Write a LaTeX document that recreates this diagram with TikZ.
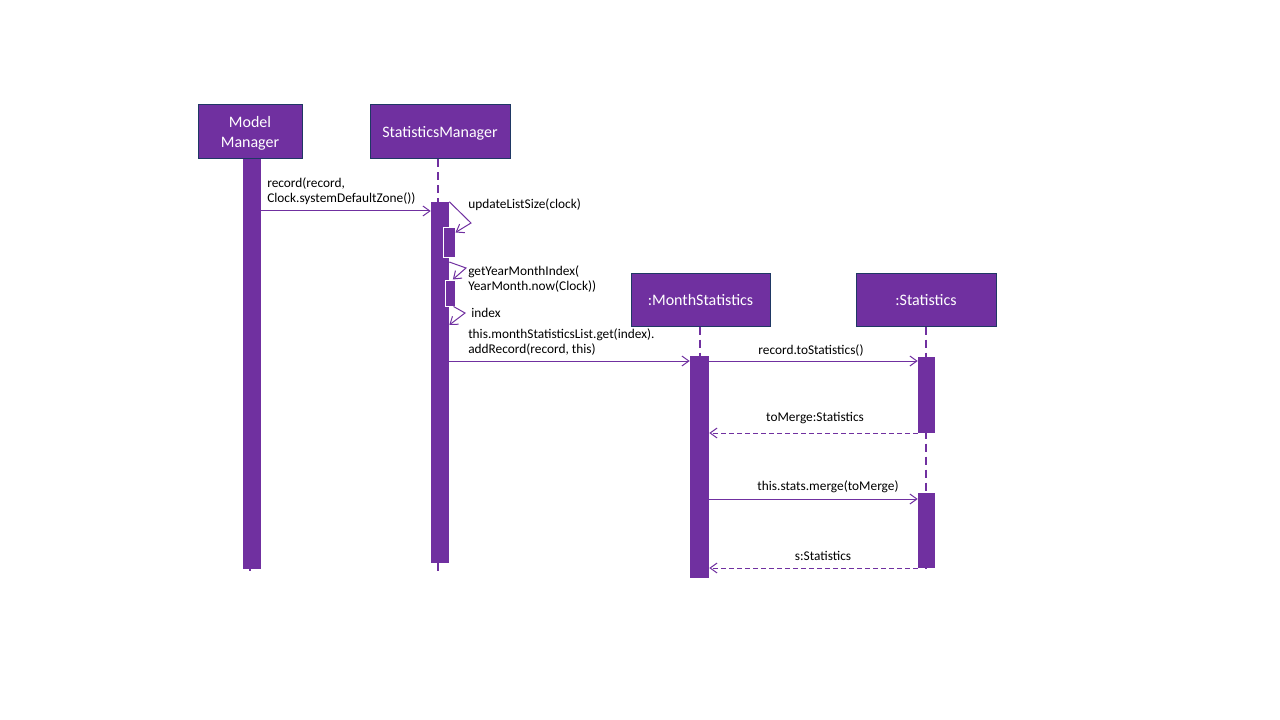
\documentclass[tikz,border=0pt]{standalone}
\usepackage{fontspec}
\setmainfont{Carlito}
\usetikzlibrary{arrows.meta}
\definecolor{umlpurple}{HTML}{7030A0}
\definecolor{umlnavy}{HTML}{1F3864}
\begin{document}
\begin{tikzpicture}[x=0.75pt,y=-0.75pt,
  obj/.style={draw=umlnavy, line width=0.75pt, fill=umlpurple, text=white,
    font=\fontsize{12}{14.4}\selectfont, align=center, inner sep=0pt, minimum height=40.5pt, text depth=0pt},
  act/.style={fill=umlpurple, draw=none, inner sep=0pt},
  nested/.style={fill=umlpurple, draw=white, line width=0.75pt, inner sep=0pt},
  life/.style={draw=umlpurple, line width=1.9pt, dash pattern=on 6pt off 3.75pt},
  msg/.style={draw=umlpurple, line width=0.75pt, -{Straight Barb[length=5.25pt,width=7.5pt]}},
  ret/.style={msg, dash pattern=on 3.75pt off 2.25pt},
  lbl/.style={font=\fontsize{10}{11.5}\selectfont, inner sep=0pt, text=black}
]
\useasboundingbox (0,0) rectangle (1280,720);

% participants
\node[obj, minimum width=78pt] (mm) at (250,132) {Model\\Manager};
\node[obj, minimum width=105pt] (sm) at (440,132) {StatisticsManager};
\node[obj, minimum width=104.25pt, minimum height=39.75pt] (ms) at (700.5,299.5) {:MonthStatistics};
\node[obj, minimum width=105pt, minimum height=39.75pt] (st) at (926,299.5) {:Statistics};

% lifeline ends
\coordinate (mmEnd) at (250,572);
\coordinate (smEnd) at (438,572);
\coordinate (msEnd) at (700,578);
\coordinate (stEnd) at (926,572);

\draw[life] (mmEnd |- mm.south) -- (mmEnd);
\draw[life] (smEnd |- sm.south) -- (smEnd);
\draw[life] (msEnd |- ms.south) -- (msEnd);
\draw[life] (stEnd |- st.south) -- (stEnd);

% activation bars
\node[act, minimum width=13.5pt, minimum height=307.5pt] (mmA) at (252,364) {};
\node[act, minimum width=13.5pt, minimum height=270.75pt] (smA) at (440,382.5) {};
\node[nested, minimum width=9pt, minimum height=21.75pt] (smN1) at (449,242.5) {};
\node[nested, minimum width=7.5pt, minimum height=19.5pt] (smN2) at (450,293) {};
\node[act, minimum width=14.25pt, minimum height=166.5pt] (msA) at (699.5,467) {};
\node[act, minimum width=12.75pt, minimum height=57pt] (stA1) at (926.5,394.5) {};
\node[act, minimum width=12.75pt, minimum height=56.25pt] (stA2) at (926.5,530.5) {};

% message levels
\coordinate (y1) at (0,211);
\coordinate (y2) at (0,262);
\coordinate (y3) at (0,325);
\coordinate (y4) at (0,361);
\coordinate (y5) at (0,433);
\coordinate (y6) at (0,499);
\coordinate (y7) at (0,568);
\coordinate (c1) at (471,223);
\coordinate (c2) at (466,268);
\coordinate (c3) at (465,313);

% messages
\draw[msg] (mmA.east |- y1) -- (smA.west |- y1);
\node[lbl, anchor=west, align=left] (l1) at (267,191.5) {record(record,\\Clock.systemDefaultZone())};

\draw[msg] (smA.north east) -- (c1) -- ([yshift=-3.75pt]smN1.north east);
\node[lbl, anchor=west] (l2) at (468,204.5) {updateListSize(clock)};

\draw[msg] (smA.east |- y2) -- (c2) -- ([xshift=-2pt]smN2.north east);
\node[lbl, anchor=west, align=left] (l3) at (468,279) {getYearMonthIndex(\\YearMonth.now(Clock))};

\draw[msg] ([xshift=-1.5pt]smN2.south east) -- (c3) -- (smA.east |- y3);
\node[lbl, anchor=west] (l4) at (471,312.5) {index};

\draw[msg] (smA.east |- y4) -- (msA.west |- y4);
\node[lbl, anchor=west, align=left] (l5) at (468,342) {this.monthStatisticsList.get(index).\\addRecord(record, this)};

\draw[msg] (msA.east |- y4) -- (stA1.west |- y4);
\node[lbl] (l6) at (811,351) {record.toStatistics()};

\draw[ret] (stA1.west |- y5) -- (msA.east |- y5);
\node[lbl] (l7) at (815,418) {toMerge:Statistics};

\draw[msg] (msA.east |- y6) -- (stA2.west |- y6);
\node[lbl] (l8) at (828,486.5) {this.stats.merge(toMerge)};

\draw[ret] (stA2.west |- y7) -- (msA.east |- y7);
\node[lbl] (l9) at (823,556) {s:Statistics};
\end{tikzpicture}
\end{document}
